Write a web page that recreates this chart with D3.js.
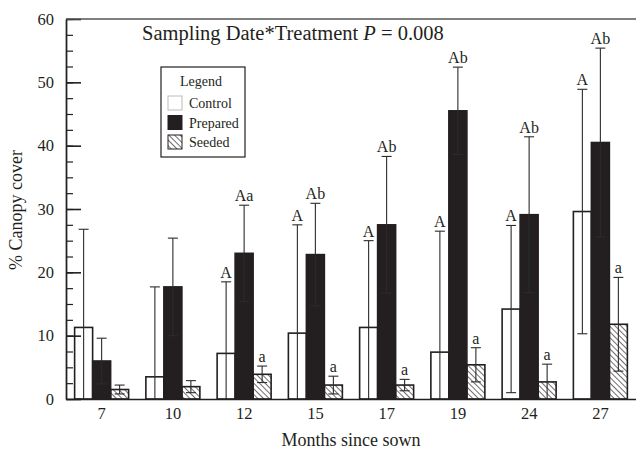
<!DOCTYPE html>
<html>
<head>
<meta charset="utf-8">
<script src="https://cdn.jsdelivr.net/npm/d3@7"></script>
<style>
  body { margin: 0; background: #fff; }
  text { font-family: "Liberation Serif", "Times New Roman", serif; fill: #231f20; }
</style>
</head>
<body>
<script>
// months since sown (categories)
var months = ["7", "10", "12", "15", "17", "19", "24", "27"];

// mean % canopy cover and standard errors
var control    = [11.3, 3.5, 7.2, 10.4, 11.3, 7.4, 14.2, 29.6];
var controlSE  = [15.5, 14.2, 11.3, 17.1, 13.7, 19.1, 13.2, 19.3];
var prepared   = [6.0, 17.7, 23.0, 22.8, 27.5, 45.5, 29.1, 40.5];
var preparedSE = [3.6, 7.7, 7.6, 8.1, 10.8, 6.9, 12.3, 14.9];
var seeded     = [1.5, 1.95, 3.9, 2.2, 2.2, 5.4, 2.7, 11.8];
var seededSE   = [0.7, 0.95, 1.3, 1.4, 0.9, 2.7, 2.8, 7.4];

// significance letters above each error bar
var controlLetters  = ["", "", "A", "A", "A", "A", "A", "A"];
var preparedLetters = ["", "", "Aa", "Ab", "Ab", "Ab", "Ab", "Ab"];
var seededLetters   = ["", "", "a", "a", "a", "a", "a", "a"];

var seriesNames = ["Control", "Prepared", "Seeded"];
var yTicks = [0, 10, 20, 30, 40, 50, 60];

var width = 636, height = 451;
var margin = { top: 19, right: 0, bottom: 52, left: 66 };

var svg = d3.select("body").append("svg")
  .attr("width", width)
  .attr("height", height);

// diagonal hatch for the seeded bars
var defs = svg.append("defs");
defs.append("pattern")
  .attr("id", "hatch")
  .attr("patternUnits", "userSpaceOnUse")
  .attr("width", 4)
  .attr("height", 4)
  .attr("patternTransform", "rotate(-45)")
  .append("line")
  .attr("x1", 0).attr("y1", -1)
  .attr("x2", 0).attr("y2", 5)
  .attr("stroke", "#231f20")
  .attr("stroke-width", 1.3);

var x = d3.scaleBand()
  .domain(months)
  .range([margin.left, width - margin.right]);

var barW = 18;
var x1 = d3.scaleBand()
  .domain(seriesNames)
  .range([0, barW * 3]);

var y = d3.scaleLinear()
  .domain([0, 60])
  .range([height - margin.bottom, margin.top]);

// build rows per series so every mark comes from the arrays
var series = [
  { name: "Control", vals: control, se: controlSE, letters: controlLetters, fill: "#fff" },
  { name: "Prepared", vals: prepared, se: preparedSE, letters: preparedLetters, fill: "#231f20" },
  { name: "Seeded", vals: seeded, se: seededSE, letters: seededLetters, fill: "url(#hatch)" }
];

var rows = [];
series.forEach(function(s) {
  months.forEach(function(m, i) {
    rows.push({ month: m, name: s.name, v: s.vals[i], se: s.se[i], letter: s.letters[i], fill: s.fill });
  });
});

function barX(d) {
  return x(d.month) + (x.bandwidth() - barW * 3) / 2 + x1(d.name);
}
function barCx(d) { return barX(d) + barW / 2; }

// bars
svg.append("g").selectAll("rect")
  .data(rows)
  .enter().append("rect")
  .attr("x", barX)
  .attr("y", function(d) { return y(d.v); })
  .attr("width", barW)
  .attr("height", function(d) { return y(0) - y(d.v); })
  .attr("fill", function(d) { return d.fill; })
  .attr("stroke", "#231f20")
  .attr("stroke-width", 1.6);

// error bars (mean +/- SE, clipped at zero)
var capW = 10;
var eb = svg.append("g")
  .attr("stroke", "#2b2b2b")
  .attr("stroke-width", 1.1);

eb.selectAll("line.stem")
  .data(rows)
  .enter().append("line")
  .attr("class", "stem")
  .attr("x1", barCx).attr("x2", barCx)
  .attr("y1", function(d) { return y(Math.max(0, d.v - d.se)); })
  .attr("y2", function(d) { return y(d.v + d.se); });

eb.selectAll("line.top")
  .data(rows)
  .enter().append("line")
  .attr("class", "top")
  .attr("x1", function(d) { return barCx(d) - capW / 2; })
  .attr("x2", function(d) { return barCx(d) + capW / 2; })
  .attr("y1", function(d) { return y(d.v + d.se); })
  .attr("y2", function(d) { return y(d.v + d.se); });

eb.selectAll("line.bottom")
  .data(rows.filter(function(d) { return d.v - d.se > 0; }))
  .enter().append("line")
  .attr("class", "bottom")
  .attr("x1", function(d) { return barCx(d) - capW / 2; })
  .attr("x2", function(d) { return barCx(d) + capW / 2; })
  .attr("y1", function(d) { return y(d.v - d.se); })
  .attr("y2", function(d) { return y(d.v - d.se); });

// letters
svg.append("g").selectAll("text")
  .data(rows.filter(function(d) { return d.letter; }))
  .enter().append("text")
  .attr("x", barCx)
  .attr("y", function(d) { return y(d.v + d.se) - 4; })
  .attr("text-anchor", "middle")
  .style("font-size", "16px")
  .text(function(d) { return d.letter; });

// y axis: major ticks inward with labels, minor ticks every 2.5
var yAxis = svg.append("g")
  .attr("transform", "translate(" + margin.left + ",0)")
  .call(d3.axisLeft(y).tickValues(yTicks).tickSize(-15).tickSizeOuter(0).tickPadding(12));
yAxis.selectAll("text").style("font-size", "16.5px");
yAxis.selectAll("line, path").attr("stroke", "#231f20").attr("stroke-width", 1.6);

var yMinor = svg.append("g")
  .attr("transform", "translate(" + margin.left + ",0)")
  .call(d3.axisLeft(y).tickValues(d3.range(0, 60.01, 2.5)).tickSize(-7).tickSizeOuter(0).tickFormat(""));
yMinor.selectAll("line, path").attr("stroke", "#231f20").attr("stroke-width", 1.2);

// x axis: baseline only, labels centred under groups
var xAxis = svg.append("g")
  .attr("transform", "translate(0," + y(0) + ")")
  .call(d3.axisBottom(x).tickSize(0).tickPadding(8));
xAxis.selectAll("text").style("font-size", "16.5px");
xAxis.select("path").attr("stroke", "#231f20").attr("stroke-width", 1.6);

// top frame line
svg.append("line")
  .attr("x1", margin.left).attr("x2", width - margin.right)
  .attr("y1", y(60)).attr("y2", y(60))
  .attr("stroke", "#555")
  .attr("stroke-width", 1.5);

// title
var title = svg.append("text")
  .attr("x", 142)
  .attr("y", 40)
  .style("font-size", "20.5px");
title.append("tspan").text("Sampling Date*Treatment ");
title.append("tspan").style("font-style", "italic").text("P");
title.append("tspan").text(" = 0.008");

// axis titles
svg.append("text")
  .attr("transform", "translate(22,210) rotate(-90)")
  .attr("text-anchor", "middle")
  .style("font-size", "18px")
  .text("% Canopy cover");

svg.append("text")
  .attr("x", 351)
  .attr("y", 446)
  .attr("text-anchor", "middle")
  .style("font-size", "18px")
  .text("Months since sown");

// legend
var legend = svg.append("g");
legend.append("rect")
  .attr("x", 161).attr("y", 67)
  .attr("width", 84).attr("height", 90)
  .attr("fill", "#fff")
  .attr("stroke", "#231f20")
  .attr("stroke-width", 1.2);
legend.append("text")
  .attr("x", 201).attr("y", 86)
  .attr("text-anchor", "middle")
  .style("font-size", "14px")
  .text("Legend");

var items = legend.selectAll("g.item")
  .data(series)
  .enter().append("g")
  .attr("class", "item")
  .attr("transform", function(d, i) { return "translate(168," + (96 + i * 19.5) + ")"; });
items.append("rect")
  .attr("width", 14).attr("height", 14)
  .attr("fill", function(d) { return d.fill; })
  .attr("stroke", function(d) { return d.name === "Control" ? "#bbb" : "#231f20"; })
  .attr("stroke-width", 1);
items.append("text")
  .attr("x", 21).attr("y", 12)
  .style("font-size", "14px")
  .text(function(d) { return d.name; });
</script>
</body>
</html>
